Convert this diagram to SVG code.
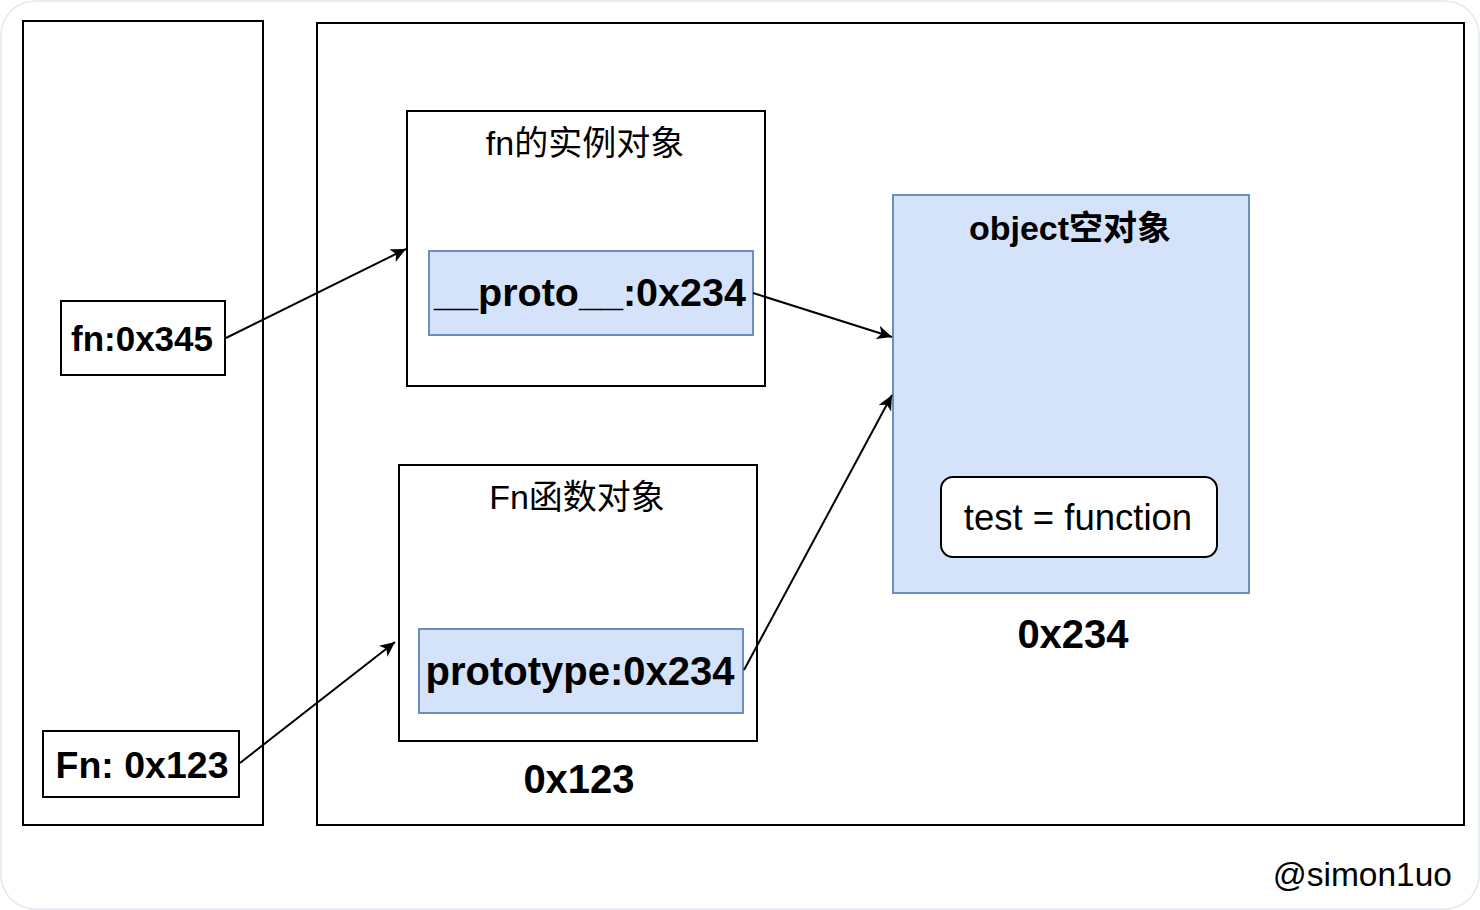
<svg xmlns="http://www.w3.org/2000/svg" width="1480" height="910" viewBox="0 0 1480 910">
  <style>
    .box { fill: #ffffff; stroke: #000000; stroke-width: 2; }
    .blue { fill: #d4e3fa; stroke: #6c8ebf; stroke-width: 2; }
    .t { font-family: "Liberation Sans", "Noto Sans CJK SC", sans-serif; fill: #000000; }
    .b { font-weight: bold; }
    .edge { fill: none; stroke: #000000; stroke-width: 2; marker-end: url(#arrow); }
  </style>
  <defs>
    <marker id="arrow" markerUnits="userSpaceOnUse" markerWidth="16" markerHeight="14" refX="15" refY="7" orient="auto">
      <path d="M0,0 L15,7 L0,14 L4,7 Z" fill="#000000"/>
    </marker>
  </defs>
  <rect x="0" y="0" width="1480" height="910" fill="#ffffff"/>
  <rect x="1" y="1" width="1478" height="908" rx="34" ry="34" fill="none" stroke="#e3e8ef" stroke-width="1.5"/>

  <g id="stack">
    <rect class="box" x="23" y="21" width="240" height="804"/>
  </g>
  <g id="heap">
    <rect class="box" x="317" y="23" width="1147" height="802"/>
  </g>

  <g id="var-fn">
    <rect class="box" x="61" y="301" width="164" height="74"/>
    <text class="t b" x="142" y="351" font-size="35" text-anchor="middle">fn:0x345</text>
  </g>
  <g id="var-Fn">
    <rect class="box" x="43" y="731" width="196" height="66"/>
    <text class="t b" x="142" y="778" font-size="37.5" text-anchor="middle">Fn: 0x123</text>
  </g>

  <g id="instance">
    <rect class="box" x="407" y="111" width="358" height="275"/>
    <text class="t" x="585" y="155" font-size="34" text-anchor="middle">fn的实例对象</text>
  </g>
  <g id="proto">
    <rect class="blue" x="429" y="251" width="324" height="84"/>
    <text class="t b" x="590" y="306" font-size="39.5" text-anchor="middle">__proto__:0x234</text>
  </g>

  <g id="fn-object">
    <rect class="box" x="399" y="465" width="358" height="276"/>
    <text class="t" x="577" y="509" font-size="34" text-anchor="middle">Fn函数对象</text>
    <text class="t b" x="579" y="793" font-size="40" text-anchor="middle">0x123</text>
  </g>
  <g id="prototype">
    <rect class="blue" x="419" y="629" width="324" height="84"/>
    <text class="t b" x="580" y="685" font-size="40" text-anchor="middle">prototype:0x234</text>
  </g>

  <g id="empty-object">
    <rect class="blue" x="893" y="195" width="356" height="398"/>
    <text class="t b" x="1070" y="240" font-size="34" text-anchor="middle">object空对象</text>
    <text class="t b" x="1073" y="648" font-size="40" text-anchor="middle">0x234</text>
  </g>
  <g id="test-fn">
    <rect class="box" x="941" y="477" width="276" height="80" rx="12" ry="12"/>
    <text class="t" x="1078" y="530" font-size="36.5" text-anchor="middle">test = function</text>
  </g>

  <g id="connectors">
    <line class="edge" x1="226" y1="338" x2="406" y2="249"/>
    <line class="edge" x1="753" y1="293" x2="892" y2="337"/>
    <line class="edge" x1="744" y1="670" x2="892" y2="395"/>
    <line class="edge" x1="240" y1="763" x2="395" y2="642"/>
  </g>

  <g id="credit">
    <text class="t" x="1452" y="886" font-size="33.5" text-anchor="end">@simon1uo</text>
  </g>
</svg>
